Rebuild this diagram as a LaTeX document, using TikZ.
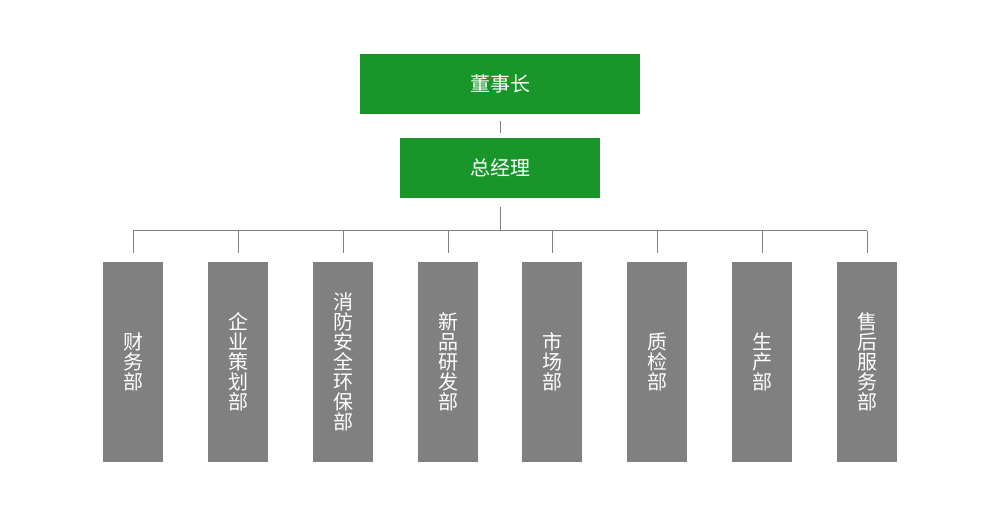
\documentclass[tikz,border=0pt]{standalone}
\usepackage{fontspec}
\newfontfamily\cjk{Noto Sans CJK SC}
\definecolor{boardgreen}{RGB}{24,150,42}
\definecolor{deptgray}{RGB}{128,128,128}
\definecolor{linegray}{RGB}{128,128,128}
\begin{document}
\begin{tikzpicture}[x=1pt,y=-1pt,
  topbox/.style={fill=boardgreen,draw=none,inner sep=0pt,text=white,font=\cjk\fontsize{20}{20}\selectfont},
  deptbox/.style={fill=deptgray,draw=none,inner sep=0pt,minimum width=60pt,minimum height=200pt,text=white,align=center,font=\cjk\fontsize{20}{20}\selectfont},
  conn/.style={draw=linegray,line width=1pt}]
\useasboundingbox[fill=white] (0,0) rectangle (1000,520);
\node[topbox,minimum width=280pt,minimum height=60pt] (ceo) at (500,84) {董事长};
\node[topbox,minimum width=200pt,minimum height=60pt] (gm) at (500,168) {总经理};
\coordinate (bus) at (500,230.5);
\foreach \i/\x/\t in {1/133/{财\\务\\部},2/238/{企\\业\\策\\划\\部},3/343/{消\\防\\安\\全\\环\\保\\部},4/448/{新\\品\\研\\发\\部},5/552/{市\\场\\部},6/657/{质\\检\\部},7/762/{生\\产\\部},8/867/{售\\后\\服\\务\\部}}{
  \node[deptbox] (d\i) at (\x,362) {\t};
  \coordinate (b\i) at (\x,230.5);
}
\draw[conn,shorten <=7pt,shorten >=5pt] (ceo.south) -- (gm.north);
\draw[conn,shorten <=9pt] (gm.south) -- (bus);
\draw[conn] (b1) -- (b8);
\foreach \i in {1,...,8}{
  \draw[conn,shorten >=9pt] (b\i) -- (d\i.north);
}
\end{tikzpicture}
\end{document}
